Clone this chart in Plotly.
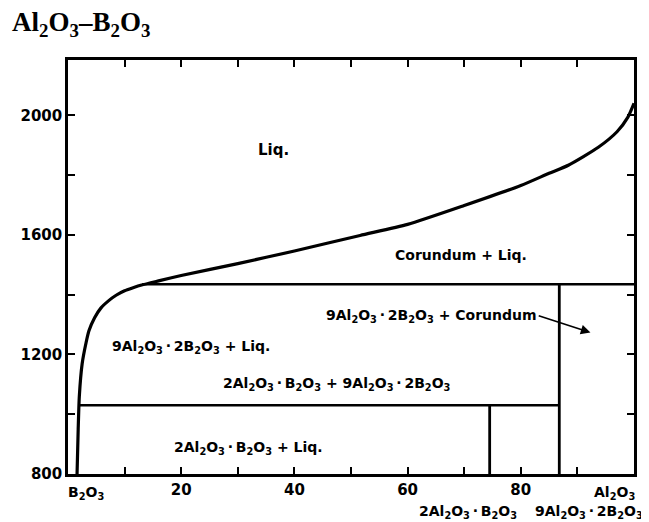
import plotly.graph_objects as go

# Liquidus (wt% Al2O3, temperature °C)
liq_x = [1.6, 1.8, 2.0, 2.5, 3.2, 3.7, 4.7, 5.8, 7.2, 8.5, 10, 11.5, 13, 16, 20, 30, 40, 51.6, 60, 70, 80, 85, 88.4, 93.7, 97, 98.9, 100]
liq_T = [800, 950, 1060, 1169, 1240, 1279, 1323, 1355, 1380, 1398, 1413, 1423, 1432, 1446, 1464, 1504, 1546, 1598, 1635, 1698, 1765, 1806, 1833, 1893, 1945, 1993, 2040]

# Invariant (horizontal) lines
inv_T = [1030, 1435]
inv_x0 = [1.95, 13.1]
inv_x1 = [86.8, 100]

# Compounds (vertical lines)
comp_x = [74.5, 86.8]
comp_top = [1030, 1435]

x_tickvals = [0, 10, 20, 30, 40, 50, 60, 70, 80, 90, 100]
x_ticktext = ["", "", "20", "", "40", "", "60", "", "80", "", ""]
y_tickvals = [800, 1000, 1200, 1400, 1600, 1800, 2000]
y_ticktext = ["800", "", "1200", "", "1600", "", "2000"]

AL = "Al<sub>2</sub>O<sub>3</sub>"
BO = "B<sub>2</sub>O<sub>3</sub>"
DOT = "\u2009·\u2009"
labels = [
    ("Liq.", 36.3, 1883, 15),
    ("Corundum + Liq.", 69.5, 1531, 14),
    ("9" + AL + DOT + "2" + BO + " + Corundum", 64.3, 1330, 14),
    ("9" + AL + DOT + "2" + BO + " + Liq.", 21.8, 1226, 14),
    ("2" + AL + DOT + BO + " + 9" + AL + DOT + "2" + BO, 47.5, 1102, 14),
    ("2" + AL + DOT + BO + " + Liq.", 31.9, 887, 14),
]

fig = go.Figure()
fig.add_trace(go.Scatter(x=liq_x, y=liq_T, mode="lines",
                         line=dict(color="black", width=3.2, shape="spline", smoothing=0.6), hoverinfo="skip"))
for T, a, b in zip(inv_T, inv_x0, inv_x1):
    fig.add_trace(go.Scatter(x=[a, b], y=[T, T], mode="lines", line=dict(color="black", width=2.5), hoverinfo="skip"))
for cx, top in zip(comp_x, comp_top):
    fig.add_trace(go.Scatter(x=[cx, cx], y=[800, top], mode="lines", line=dict(color="black", width=2.8), hoverinfo="skip"))

for txt, x, y, sz in labels:
    fig.add_annotation(x=x, y=y, text="<b>" + txt + "</b>", showarrow=False,
                       font=dict(family="DejaVu Sans", size=sz, color="black"))

# arrow to the narrow 9Al2O3·2B2O3 + Corundum field
fig.add_annotation(x=92.3, y=1273, ax=82.9, ay=1331, axref="x", ayref="y", text="",
                   showarrow=True, arrowhead=2, arrowsize=1.2, arrowwidth=1.6, arrowcolor="black")

# composition labels below the axis
bottom_labels = [
    ("<b>" + BO + "</b>", 3.2, -0.019),
    ("<b>" + AL + "</b>", 96.5, -0.019),
    ("<b>2" + AL + DOT + BO + "</b>", 70.7, -0.066),
    ("<b>9" + AL + DOT + "2" + BO + "</b>", 92.0, -0.066),
]
for txt, x, yp in bottom_labels:
    fig.add_annotation(x=x, y=yp, xref="x", yref="paper", text=txt, showarrow=False,
                       yanchor="top", font=dict(family="DejaVu Sans", size=14, color="black"))

axis_common = dict(showline=True, linecolor="black", linewidth=2.5, mirror="ticks",
                   ticks="inside", ticklen=7, tickwidth=2, tickcolor="black",
                   showgrid=False, zeroline=False,
                   tickfont=dict(family="DejaVu Sans", size=15, color="black", weight="bold"))

fig.update_layout(
    width=641, height=514,
    margin=dict(l=58, r=12, t=52, b=48),
    paper_bgcolor="white", plot_bgcolor="white",
    showlegend=False,
    title=dict(text="<b>" + AL + "–" + BO + "</b>", x=4/641, xanchor="left", y=1 - 4/514, yanchor="top",
               font=dict(family="Liberation Serif", size=27, color="black")),
    xaxis=dict(range=[0, 100], tickvals=x_tickvals, ticktext=x_ticktext, **axis_common),
    yaxis=dict(range=[800, 2185], tickvals=y_tickvals, ticktext=y_ticktext, **axis_common),
)
fig.write_html("out.html")
